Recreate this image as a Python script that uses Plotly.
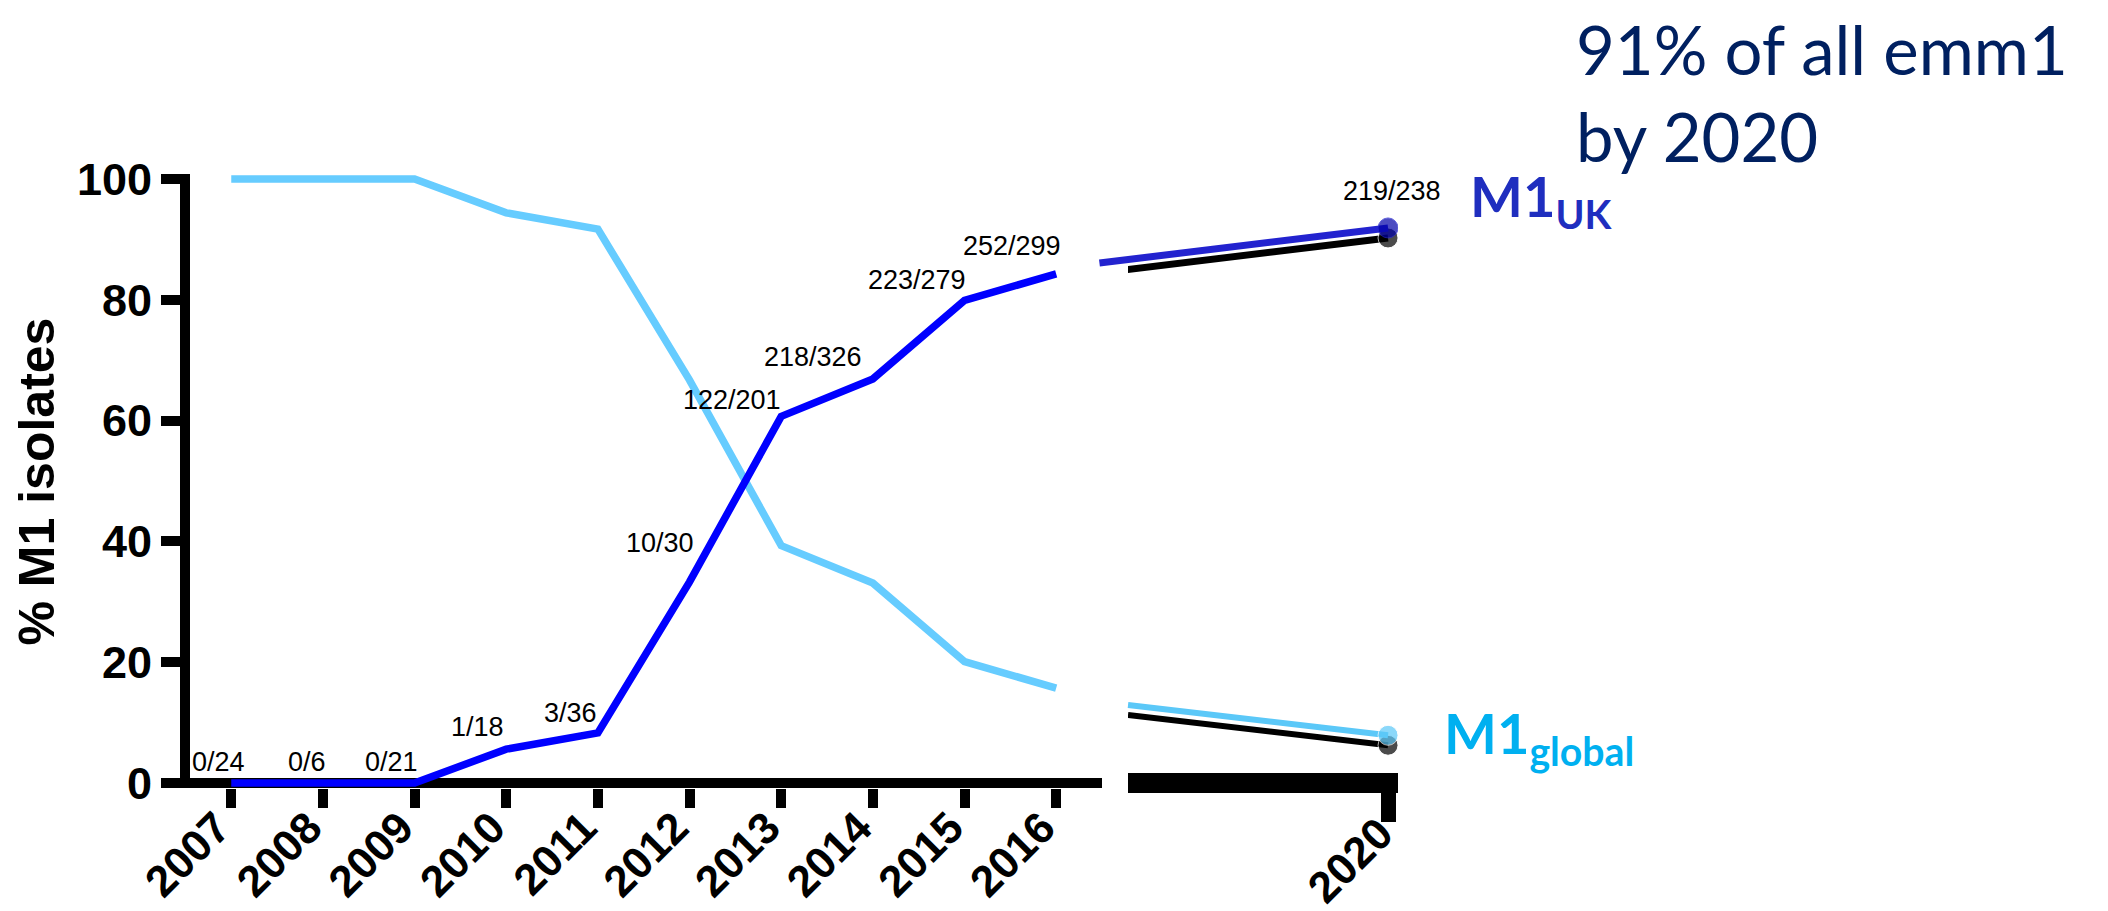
import plotly.graph_objects as go

# ---------------- data ----------------
years = [2007, 2008, 2009, 2010, 2011, 2012, 2013, 2014, 2015, 2016]
uk_pct = [0, 0, 0, 5.6, 8.3, 33.3, 60.7, 66.9, 79.9, 84.3]
global_pct = [100, 100, 100, 94.4, 91.7, 66.7, 39.3, 33.1, 20.1, 15.7]
uk_counts = ["0/24", "0/6", "0/21", "1/18", "3/36", "10/30",
             "122/201", "218/326", "223/279", "252/299"]

uk_ext_years = [2016.67, 2020]
uk_ext_pct = [86.1, 91.9]
global_ext_years = [2017, 2020]
global_ext_pct = [12.9, 7.9]
uk_2020_count = "219/238"

y_ticks = [0, 20, 40, 60, 80, 100]
ext_tick = [2020]
ext_tick_text = ["2020"]

# ---------------- layout helpers ----------------
# the page body has an 8px margin, so the figure is drawn 8px in from the window corner
OFF = 8
W, H = 2100, 903


def fx(p):
    return (p - OFF) / W


def fy(p):
    return 1 - (p - OFF) / H


Y_RANGE = [-0.83, 100.8]
Y_DOM = [fy(788), fy(174.2)]
X_RANGE = [2006.55, 2016.5]
X_DOM = [fx(190), fx(1102)]
# second (broken) axis segment for 2020; its y axis is shifted to draw the drop shadows
X2_RANGE = [2017, 2020.115]
X2_DOM = [fx(1128), fx(1398)]
Y2_RANGE = [3.31, 102.46]
Y2_DOM = [fy(773), fy(174.2)]
X3_RANGE = [2016.665, 2020.115]
X3_DOM = [fx(1099), fx(1398)]

UK_BLUE = "#0000FF"
LIGHT_BLUE = "#66CCFF"
UK_EXT = "#2323CF"
UK_MARK = "#0000A8"
GL_EXT = "#5BC8F8"

BOLD = dict(family="Liberation Sans, Arial, sans-serif", size=45, color="black", weight="bold")
BOLD_X = dict(family="Liberation Sans, Arial, sans-serif", size=44, color="black", weight="bold")

fig = go.Figure()

# main series
fig.add_trace(go.Scatter(x=years, y=global_pct, mode="lines",
                         line=dict(color=LIGHT_BLUE, width=7.5),
                         xaxis="x", yaxis="y", showlegend=False, hoverinfo="skip"))
fig.add_trace(go.Scatter(x=years, y=uk_pct, mode="lines",
                         line=dict(color=UK_BLUE, width=7.5),
                         xaxis="x", yaxis="y", showlegend=False, hoverinfo="skip"))

# drop shadows of the extension lines
fig.add_trace(go.Scatter(x=uk_ext_years, y=uk_ext_pct, mode="lines+markers",
                         line=dict(color="black", width=7),
                         marker=dict(color="black", size=[0, 20]),
                         xaxis="x2", yaxis="y2", showlegend=False, hoverinfo="skip"))
fig.add_trace(go.Scatter(x=global_ext_years, y=global_ext_pct, mode="lines+markers",
                         line=dict(color="black", width=6),
                         marker=dict(color="black", size=[0, 20]),
                         xaxis="x2", yaxis="y2", showlegend=False, hoverinfo="skip"))

# extension lines to 2020
fig.add_trace(go.Scatter(x=global_ext_years, y=global_ext_pct, mode="lines+markers",
                         line=dict(color=GL_EXT, width=6),
                         marker=dict(color=GL_EXT, size=[0, 20]),
                         xaxis="x3", yaxis="y3", showlegend=False, hoverinfo="skip"))
fig.add_trace(go.Scatter(x=uk_ext_years, y=uk_ext_pct, mode="lines+markers",
                         line=dict(color=UK_EXT, width=7),
                         marker=dict(color=UK_MARK, size=[0, 20]),
                         xaxis="x3", yaxis="y3", showlegend=False, hoverinfo="skip"))

# ---------------- annotations ----------------
label_offsets = [(-13, 21), (-16, 21), (-23, 21), (-29, 22), (-27, 20),
                 (-30, 39), (-49, 16), (-60, 22), (-48, 20), (-44, 28)]
LABEL_FONT = dict(family="Liberation Sans, Arial, sans-serif", size=27, color="black")
annotations = []
for yr, val, txt, (dx, dy) in zip(years, uk_pct, uk_counts, label_offsets):
    annotations.append(dict(x=yr, y=val, xref="x", yref="y", text=txt,
                            showarrow=False, xshift=dx, yshift=dy,
                            xanchor="center", yanchor="middle", font=LABEL_FONT))
annotations.append(dict(x=uk_ext_years[-1], y=uk_ext_pct[-1], xref="x3", yref="y3",
                        text=uk_2020_count, showarrow=False, xshift=4, yshift=37,
                        xanchor="center", yanchor="middle", font=LABEL_FONT))

annotations.append(dict(x=fx(36), y=fy(481.5), xref="paper", yref="paper",
                        text="% M1 isolates", textangle=-90, showarrow=False,
                        xanchor="center", yanchor="middle",
                        font=dict(family="Liberation Sans, Arial, sans-serif", size=50,
                                  color="black", weight="bold")))

annotations.append(dict(x=fx(1468), y=fy(160), xref="paper", yref="paper",
                        text="M1<sub>UK</sub>", showarrow=False,
                        xanchor="left", yanchor="top",
                        font=dict(family="Lato, sans-serif", size=56, color="#1F2EBF",
                                  weight="bold")))
annotations.append(dict(x=fx(1442), y=fy(697), xref="paper", yref="paper",
                        text="M1<sub>global</sub>", showarrow=False,
                        xanchor="left", yanchor="top",
                        font=dict(family="Lato, sans-serif", size=56, color="#00B0F0",
                                  weight="bold")))
annotations.append(dict(x=fx(1575), y=fy(8), xref="paper", yref="paper",
                        text="91% of all emm1<br>by 2020", showarrow=False,
                        xanchor="left", yanchor="top", align="left", borderpad=0,
                        font=dict(family="Lato, sans-serif", size=67, color="#002060")))

fig.update_layout(
    width=W, height=H,
    margin=dict(l=0, r=0, t=0, b=0),
    paper_bgcolor="white", plot_bgcolor="rgba(0,0,0,0)",
    showlegend=False,
    annotations=annotations,
    xaxis=dict(domain=X_DOM, range=X_RANGE, anchor="y",
               tickvals=years, ticktext=[str(y) for y in years],
               ticks="outside", ticklen=19, tickwidth=10, tickcolor="black",
               tickangle=-45, tickfont=BOLD_X,
               ticklabelstandoff=-24, ticklabelshift=-14,
               showline=False, showgrid=False, zeroline=False, automargin=False),
    yaxis=dict(domain=Y_DOM, range=Y_RANGE, anchor="x",
               tickvals=y_ticks, ticks="outside", ticklen=19, tickwidth=10,
               tickcolor="black", tickfont=BOLD,
               showline=True, linewidth=10, linecolor="black",
               showgrid=False, zeroline=True, zerolinewidth=10, zerolinecolor="black",
               automargin=False),
    xaxis2=dict(domain=X2_DOM, range=X2_RANGE, anchor="y2",
                tickvals=ext_tick, ticktext=ext_tick_text,
                ticks="outside", ticklen=29, tickwidth=15, tickcolor="black",
                tickangle=-45, tickfont=BOLD_X,
                ticklabelstandoff=-32, ticklabelshift=-8,
                showline=True, linewidth=20, linecolor="black",
                showgrid=False, zeroline=False, automargin=False),
    yaxis2=dict(domain=Y2_DOM, range=Y2_RANGE, anchor="x2",
                showticklabels=False, ticks="", showline=False, showgrid=False,
                zeroline=False, automargin=False),
    xaxis3=dict(domain=X3_DOM, range=X3_RANGE, anchor="y3", visible=False,
                showgrid=False, zeroline=False),
    yaxis3=dict(domain=Y_DOM, range=Y_RANGE, anchor="x3", visible=False,
                showgrid=False, zeroline=False),
)

fig.write_html("out.html")
